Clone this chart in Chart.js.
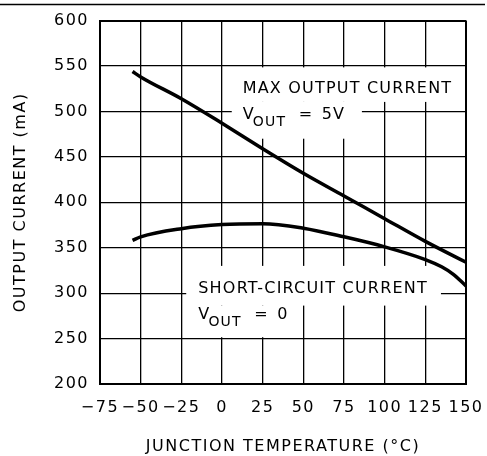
<!DOCTYPE html>
<html>
<head>
<meta charset="utf-8">
<script src="https://cdn.jsdelivr.net/npm/chart.js@4.4.1/dist/chart.umd.min.js"></script>
<style>
    html, body { margin: 0; padding: 0; background: #fff; }
    canvas { display: block; }
</style>
</head>
<body>
<canvas id="chart" width="487" height="456"></canvas>
<script>
// axis ranges / ticks
const xTicks = [-75, -50, -25, 0, 25, 50, 75, 100, 125, 150];
const yTicks = [200, 250, 300, 350, 400, 450, 500, 550, 600];

// max output current, Vout = 5V
const maxTemp = [-55, -50, -25, 0, 25, 50, 75, 100, 125, 150];
const maxCurrent = [544, 538, 514, 487, 459, 432, 407, 382, 357, 334];

// short-circuit current, Vout = 0
const shortTemp = [-55, -50, -25, 0, 25, 50, 75, 100, 125, 135, 142, 150];
const shortCurrent = [358, 362, 371, 375.5, 376.5, 371.5, 362, 351, 337, 329, 321, 308];

const FONT = "DejaVu Sans";

// the two text labels inside the plot, with the white patches behind them
const notes = [
    {
        title: "MAX OUTPUT CURRENT", value: "5V", at: [12.7, 520.5],
        mask: [[6, 150, 548.5, 510.5], [6, 86, 510.5, 470]]
    },
    {
        title: "SHORT-CIRCUIT CURRENT", value: "0", at: [-14.6, 300.2],
        mask: [[-22, 134.6, 330, 286.3], [-22, 41.8, 286.3, 251.5]]
    }
];

function pairs(xs, ys) {
    return xs.map((x, i) => ({ x: x, y: ys[i] }));
}

function tickLabel(v) {
    return v < 0 ? "\u2212" + Math.abs(v) : String(v);
}

const paperPlugin = {
    id: "paper",
    beforeUpdate(chart) {
        chart.ctx.letterSpacing = "1.5px";
    },
    beforeDraw(chart) {
        const ctx = chart.ctx;
        ctx.letterSpacing = "1.5px";
        ctx.save();
        ctx.fillStyle = "#fff";
        ctx.fillRect(0, 0, chart.width, chart.height);
        ctx.strokeStyle = "#000";
        ctx.lineWidth = 1.5;
        ctx.beginPath();
        ctx.moveTo(0, 4.5);
        ctx.lineTo(485, 4.5);
        ctx.stroke();
        ctx.restore();
    },
    beforeDatasetsDraw(chart) {
        const ctx = chart.ctx;
        const xs = chart.scales.x, ys = chart.scales.y;
        const area = chart.chartArea;
        ctx.save();
        ctx.fillStyle = "#fff";
        notes.forEach(n => {
            n.mask.forEach(m => {
                const x1 = xs.getPixelForValue(m[0]);
                const x2 = Math.min(xs.getPixelForValue(m[1]), area.right - 1.5);
                const y1 = ys.getPixelForValue(m[2]);
                const y2 = ys.getPixelForValue(m[3]);
                ctx.fillRect(x1, y1, x2 - x1, y2 - y1);
            });
        });

        ctx.fillStyle = "#000";
        ctx.textBaseline = "alphabetic";
        ctx.textAlign = "left";
        ctx.letterSpacing = "1.2px";
        notes.forEach(n => {
            const x = xs.getPixelForValue(n.at[0]);
            const y = ys.getPixelForValue(n.at[1]);
            ctx.font = "16px '" + FONT + "'";
            ctx.fillText(n.title, x, y);
            const y2 = y + 26;
            ctx.fillText("V", x, y2);
            const vw = ctx.measureText("V").width;
            ctx.font = "14px '" + FONT + "'";
            ctx.fillText("OUT", x + vw - 2, y2 + 7);
            ctx.font = "16px '" + FONT + "'";
            ctx.fillText("=", x + 56, y2);
            ctx.fillText(n.value, x + 79, y2);
        });
        ctx.restore();
    }
};

Chart.defaults.color = "#000";
Chart.defaults.font.family = FONT;
Chart.defaults.font.size = 16;

const ctx = document.getElementById("chart").getContext("2d");

const lastX = xTicks.length - 1, lastY = yTicks.length - 1;

new Chart(ctx, {
    type: "line",
    data: {
        datasets: [
            {
                label: "Max output current",
                data: pairs(maxTemp, maxCurrent),
                borderColor: "#000",
                borderWidth: 3.5,
                pointRadius: 0,
                cubicInterpolationMode: "monotone"
            },
            {
                label: "Short-circuit current",
                data: pairs(shortTemp, shortCurrent),
                borderColor: "#000",
                borderWidth: 3.5,
                pointRadius: 0,
                cubicInterpolationMode: "monotone"
            }
        ]
    },
    options: {
        responsive: false,
        animation: false,
        events: [],
        layout: { padding: { top: 18, right: 21, left: 0, bottom: 0 } },
        plugins: {
            legend: { display: false },
            tooltip: { enabled: false }
        },
        scales: {
            x: {
                type: "linear",
                min: xTicks[0],
                max: xTicks[lastX],
                afterBuildTicks: s => { s.ticks = xTicks.map(v => ({ value: v })); },
                afterFit: s => { s.height = 72; s.paddingLeft = 0; s.paddingRight = 0; },
                ticks: { padding: 14, callback: v => tickLabel(v), maxRotation: 0, autoSkip: false },
                grid: {
                    color: "#000",
                    drawTicks: false,
                    lineWidth: c => (c.index === 0 || c.index === lastX) ? 2 : 1.3
                },
                border: { display: true, color: "#000", width: 2 },
                title: {
                    display: true,
                    text: "JUNCTION TEMPERATURE (°C)",
                    padding: { top: 0, bottom: 0 }
                }
            },
            y: {
                type: "linear",
                min: yTicks[0],
                max: yTicks[lastY],
                afterBuildTicks: s => { s.ticks = yTicks.map(v => ({ value: v })); },
                afterFit: s => { s.width = 100; },
                ticks: { padding: 11, callback: v => tickLabel(v) },
                grid: {
                    color: "#000",
                    drawTicks: false,
                    lineWidth: c => (c.index === 0 || c.index === lastY) ? 2 : 1.3
                },
                border: { display: true, color: "#000", width: 2 },
                title: {
                    display: true,
                    text: "OUTPUT CURRENT (mA)",
                    padding: { top: 11, bottom: 0 }
                }
            }
        }
    },
    plugins: [paperPlugin]
});
</script>
</body>
</html>
